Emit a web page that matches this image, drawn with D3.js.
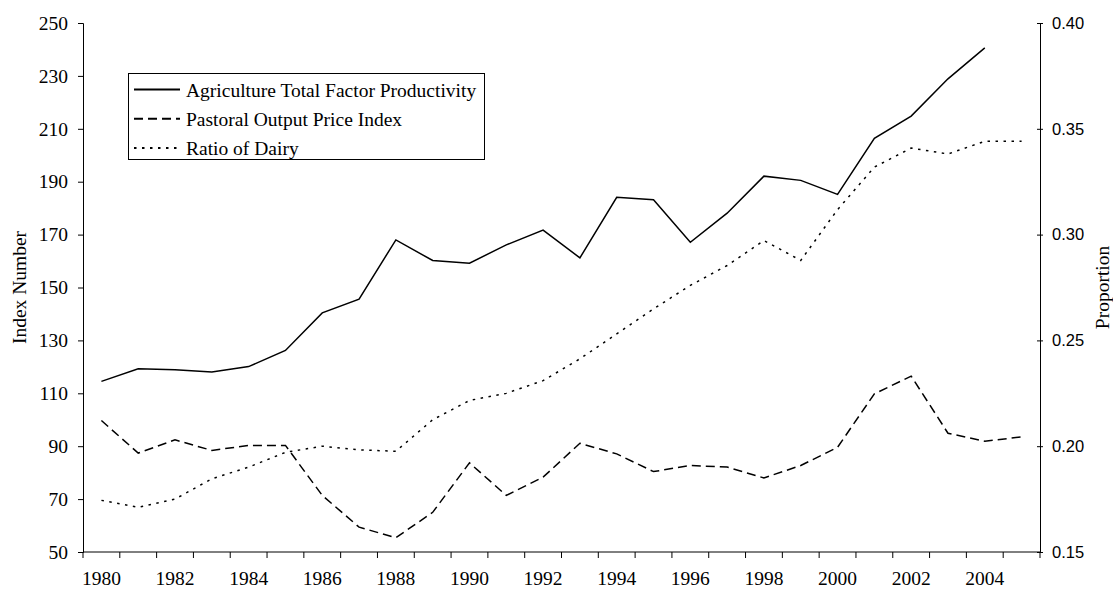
<!DOCTYPE html>
<html>
<head>
<meta charset="utf-8">
<script src="https://cdn.jsdelivr.net/npm/d3@7"></script>
<style>
  body { margin: 0; background: #fff; }
  svg { display: block; }
  .serif { font-family: "Liberation Serif", "Times New Roman", serif; }
  .sans { font-family: "Liberation Sans", Arial, sans-serif; }
</style>
</head>
<body>
<div id="chart"></div>
<script>
const width = 1113, height = 590;
const margin = {left: 83, right: 73, top: 23, bottom: 38};

// data
const years = d3.range(1980, 2006);
const tfp = [114.5, 119.3, 118.9, 118.1, 120.1, 126.2, 140.4, 145.6, 168.0, 160.2,
  159.2, 166.1, 171.7, 161.2, 184.1, 183.2, 167.1, 178.1, 192.1, 190.5,
  185.2, 206.4, 214.8, 228.9, 240.6, null];
const pastoral = [99.7, 87.4, 92.4, 88.4, 90.3, 90.3, 71.4, 59.4, 55.4, 65.0,
  83.7, 71.4, 78.3, 91.1, 87.1, 80.4, 82.7, 82.1, 78.0, 82.7,
  89.6, 109.8, 116.5, 94.9, 91.9, 93.5];
const dairy = [0.1744, 0.1711, 0.175, 0.1846, 0.1901, 0.1971, 0.2, 0.1983, 0.1976, 0.2125,
  0.2216, 0.225, 0.231, 0.2413, 0.2531, 0.2649, 0.276, 0.2854, 0.2972, 0.2878,
  0.3118, 0.3319, 0.3409, 0.3381, 0.3441, 0.3441];
const leftTicks = d3.range(50, 251, 20);
const rightTicks = [0.15, 0.20, 0.25, 0.30, 0.35, 0.40];
const labelYears = d3.range(1980, 2005, 2);
const legendNames = ['Agriculture Total Factor Productivity', 'Pastoral Output Price Index', 'Ratio of Dairy'];

const dashes = [null, '9,5', '2.5,5.5'];
const fs = '19.5px';

const svg = d3.select('#chart').append('svg')
  .attr('width', width)
  .attr('height', height);

const x = d3.scaleBand()
  .domain(years)
  .range([margin.left, width - margin.right])
  .padding(0);

const yL = d3.scaleLinear()
  .domain([50, 250])
  .range([height - margin.bottom, margin.top]);

const yR = d3.scaleLinear()
  .domain([0.15, 0.40])
  .range([height - margin.bottom, margin.top]);

const cx = d => x(d) + x.bandwidth() / 2;
const x0 = margin.left, x1 = width - margin.right;
const yb = height - margin.bottom;

// left axis
let gl = svg.append('g')
  .attr('transform', 'translate(' + x0 + ',0)')
  .call(d3.axisLeft(yL).tickValues(leftTicks).tickSize(5).tickPadding(10).tickFormat(d3.format('d')));
gl.selectAll('text').attr('class', 'serif').style('font-size', fs).attr('fill', '#000');

// right axis, ticks cross the line
let gr = svg.append('g')
  .attr('transform', 'translate(' + x1 + ',0)')
  .call(d3.axisRight(yR).tickValues(rightTicks).tickSize(3).tickPadding(9).tickFormat(d3.format('.2f')));
gr.selectAll('.tick line').attr('x1', -3);
gr.selectAll('text').attr('class', 'sans').style('font-size', '16.5px').attr('fill', '#000');

// x axis line, ticks at band edges
svg.append('line')
  .attr('x1', x0).attr('x2', x1).attr('y1', yb).attr('y2', yb)
  .attr('stroke', '#000');
svg.append('g').selectAll('line')
  .data(years.concat([2006]))
  .enter().append('line')
  .attr('x1', d => d === 2006 ? x1 : x(d))
  .attr('x2', d => d === 2006 ? x1 : x(d))
  .attr('y1', yb).attr('y2', yb + 6)
  .attr('stroke', '#000');
svg.append('g').selectAll('text')
  .data(labelYears)
  .enter().append('text')
  .attr('class', 'serif')
  .attr('x', cx)
  .attr('y', yb + 33)
  .attr('text-anchor', 'middle')
  .style('font-size', fs)
  .text(d => d);

svg.selectAll('.domain').attr('stroke', '#000');
svg.selectAll('.tick line').attr('stroke', '#000');

// axis titles
svg.append('text')
  .attr('class', 'serif')
  .attr('transform', 'translate(26,' + (margin.top + yb) / 2 + ') rotate(-90)')
  .attr('text-anchor', 'middle')
  .style('font-size', fs)
  .text('Index Number');
svg.append('text')
  .attr('class', 'serif')
  .attr('transform', 'translate(1109,' + (margin.top + yb) / 2 + ') rotate(-90)')
  .attr('text-anchor', 'middle')
  .style('font-size', fs)
  .text('Proportion');

// lines
const lineL = d3.line().defined(d => d[1] != null).x(d => cx(d[0])).y(d => yL(d[1]));
const lineR = d3.line().x(d => cx(d[0])).y(d => yR(d[1]));

svg.append('path')
  .datum(d3.zip(years, tfp))
  .attr('d', lineL)
  .attr('fill', 'none').attr('stroke', '#000').attr('stroke-width', 1.5);
svg.append('path')
  .datum(d3.zip(years, pastoral))
  .attr('d', lineL)
  .attr('fill', 'none').attr('stroke', '#000').attr('stroke-width', 1.5)
  .attr('stroke-dasharray', dashes[1]);
svg.append('path')
  .datum(d3.zip(years, dairy))
  .attr('d', lineR)
  .attr('fill', 'none').attr('stroke', '#000').attr('stroke-width', 1.5)
  .attr('stroke-dasharray', dashes[2]);

// legend
let lg = svg.append('g');
lg.append('rect')
  .attr('x', 128.5).attr('y', 73.5).attr('width', 356).attr('height', 86)
  .attr('fill', '#fff').attr('stroke', '#000');
let rows = lg.selectAll('g.row')
  .data(legendNames)
  .enter().append('g')
  .attr('transform', (d, i) => 'translate(0,' + (89.5 + i * 29.3) + ')');
rows.append('line')
  .attr('x1', 134).attr('x2', 180)
  .attr('stroke', '#000').attr('stroke-width', 2)
  .attr('stroke-dasharray', (d, i) => dashes[i]);
rows.append('text')
  .attr('class', 'serif')
  .attr('x', 186).attr('y', 7)
  .style('font-size', fs)
  .text(d => d);
</script>
</body>
</html>
